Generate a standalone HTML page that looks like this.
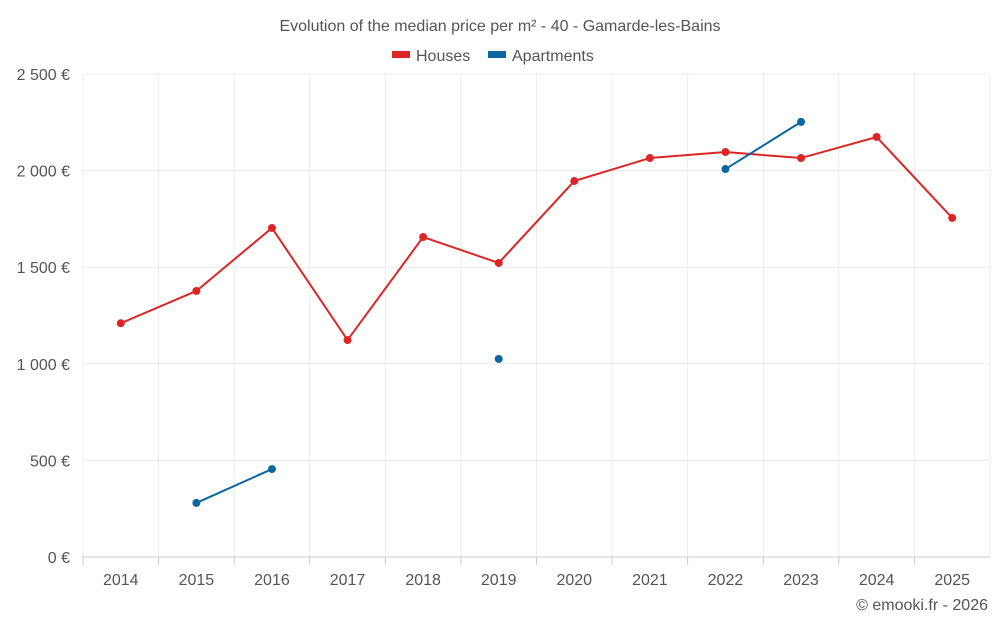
<!DOCTYPE html>
<html><head><meta charset="utf-8"><style>
body{margin:0;background:#fff;font-family:"Liberation Sans",sans-serif;}
svg text{font-family:"Liberation Sans",sans-serif;fill:#555;}
</style></head><body>
<svg id="chart" width="1000" height="625">
<text x="500" y="31" text-anchor="middle" font-size="16">Evolution of the median price per m² - 40 - Gamarde-les-Bains</text>
<g><rect x="392" y="51" width="18" height="7" fill="#dc2626"></rect><text x="416" y="61" font-size="16">Houses</text></g>
<g><rect x="488" y="51" width="18" height="7" fill="#0a66a0"></rect><text x="512" y="61" font-size="16">Apartments</text></g>
<g id="grid"></g><g id="axes"></g><g id="series"></g>
<text x="988" y="610" text-anchor="end" font-size="16">© emooki.fr - 2026</text>
</svg>
<script>
const categories=["2014","2015","2016","2017","2018","2019","2020","2021","2022","2023","2024","2025"];
const houses=[1210,1377,1703,1123,1656,1522,1946,2065,2096,2065,2174,1755];
const apartments=[null,280,455,null,null,1025,null,null,2008,2252,null,null];
const yTicks=[0,500,1000,1500,2000,2500];
const yLabels=["0 €","500 €","1 000 €","1 500 €","2 000 €","2 500 €"];
const L=83,R=990,T=74,B=557,yMax=2500;
const bw=(R-L)/categories.length;
const x=i=>L+bw*(i+0.5);
const y=v=>B-(v/yMax)*(B-T);
const NS="http://www.w3.org/2000/svg";
function mk(tag,attrs,parent){const e=document.createElementNS(NS,tag);for(const k in attrs)e.setAttribute(k,attrs[k]);parent.appendChild(e);return e;}
const grid=document.getElementById('grid'),axes=document.getElementById('axes'),ser=document.getElementById('series');
for(let i=0;i<=categories.length;i++){const l=mk('line',{x1:L+bw*i,x2:L+bw*i,y1:T,y2:B,stroke:'#ececec'},grid);

}
yTicks.forEach((v,i)=>{const l=mk('line',{x1:L,x2:R,y1:y(v),y2:y(v),stroke:v===0?'#ccc':'#ececec'},grid);


const t=mk('text',{x:70,y:y(v)+6,'text-anchor':'end','font-size':16},axes);t.textContent=yLabels[i];

});
categories.forEach((c,i)=>{const t=mk('text',{x:x(i),y:585,'text-anchor':'middle','font-size':16},axes);t.textContent=c;


const tk=mk('line',{x1:L+bw*i,x2:L+bw*i,y1:B,y2:B+8,stroke:'#ccc'},axes);

});
function draw(data,color,name){
 let seg=[];const segs=[];
 data.forEach((v,i)=>{if(v==null){if(seg.length)segs.push(seg);seg=[];}else seg.push([x(i),y(v)]);});
 if(seg.length)segs.push(seg);
 segs.forEach(s=>{if(s.length>1){const p=mk('polyline',{points:s.map(q=>q.join(',')).join(' '),fill:'none',stroke:color,'stroke-width':2},ser);
 
 }});
 data.forEach((v,i)=>{if(v==null)return;const c=mk('circle',{cx:x(i),cy:y(v),r:4,fill:color},ser);
 
 });
}
draw(houses,'#dc2626','houses');
draw(apartments,'#0a66a0','apartments');
</script>
</body></html>
